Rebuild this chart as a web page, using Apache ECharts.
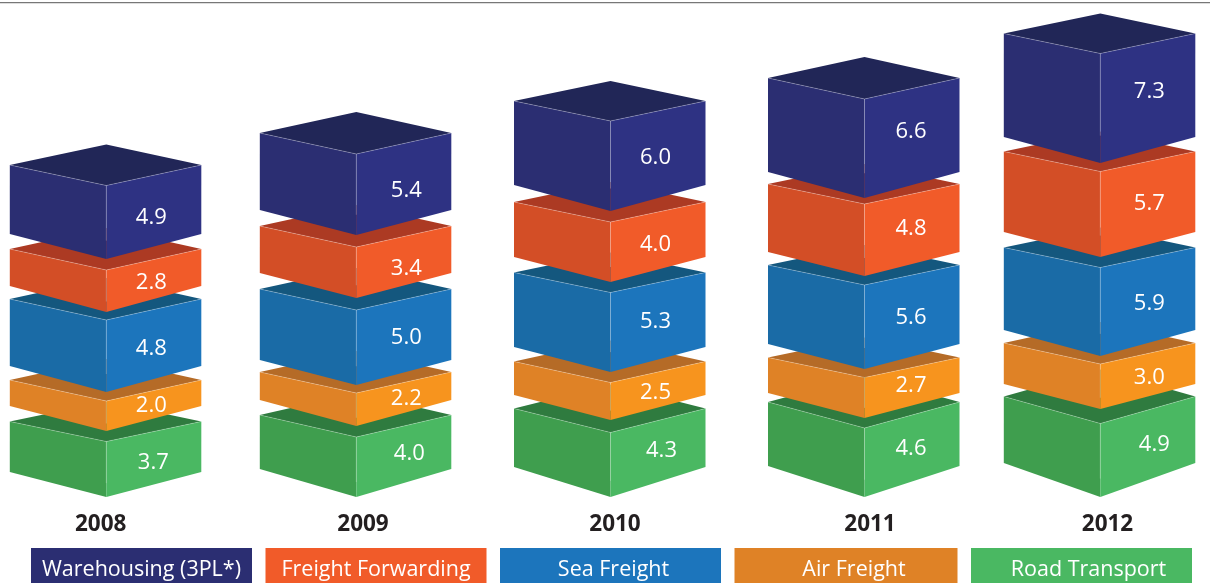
<!DOCTYPE html>
<html><head><meta charset="utf-8">
<style>html,body{margin:0;padding:0;background:#fff}#c{width:1210px;height:583px}</style>
<script src="https://cdn.jsdelivr.net/npm/echarts@6/dist/echarts.min.js"></script>
</head><body><div id="c"></div>
<script>
// ---- data ----
const years = ['2008','2009','2010','2011','2012'];
const roadTransport = [3.7,4.0,4.3,4.6,4.9];
const airFreight = [2.0,2.2,2.5,2.7,3.0];
const seaFreight = [4.8,5.0,5.3,5.6,5.9];
const freightForwarding = [2.8,3.4,4.0,4.8,5.7];
const warehousing = [4.9,5.4,6.0,6.6,7.3];
const seriesNames = ['Road Transport','Air Freight','Sea Freight','Freight Forwarding','Warehousing (3PL*)'];
const seriesValues = [roadTransport,airFreight,seaFreight,freightForwarding,warehousing];
const legendOrder = ['Warehousing (3PL*)','Freight Forwarding','Sea Freight','Air Freight','Road Transport'];

// ---- layout / style (pixels) ----
const colNudge = [0.3,1.8,7.5,13,0.3];
const halfL = 96.5, halfR = 95;
const gapsBelow = [[0,10.5,9,8,11],[0,11,8,12,12],[0,12.5,10.5,10.5,11],[0,10,8.5,9,6],[0,14.5,8,10.5,8.5]];
const topV = [[20,21,21,21,20.5],[22,21,21,21,21],[24,21,20,20,20],[26,20,20,20,21],[27,21,20,20,20]];
const botV = [[25,25,26,26,25],[28,26,25,25,25],[30,25,25,25,26],[31,25,25,24,26],[34,25,26,25,26]];
const labelDx = [[47,45,45,45,45],[53,50,50,50,50],[51,45,45,45,45],[46.5,46.5,46.5,46.5,46.5],[54,49,49,49,49]];
const labelDy = [[-8,-12,-9,-9.5,-6.5],[-14.5,-12,-11,-5,-5.5],[-15.5,-10.5,-12,-9,-9.5],[-15.5,-13.5,-11,-13,-18.5],[-17,-10.5,-9.5,-12.5,-18]];
const labelLift = 1.5;
const yearLabelDx = [-5.3,8.5,12,18.5,7.5];
const legendTextDx = [0,0,3,8,7];
const faceColors = [
  {top:'#2F7B3F',left:'#3F9E4E',right:'#4AB862',legend:'#4AB862'},
  {top:'#B56B27',left:'#DF8226',right:'#F7941E',legend:'#DF8226'},
  {top:'#14577E',left:'#1A6BA6',right:'#1C75BC',legend:'#1C75BC'},
  {top:'#AC3A23',left:'#D34E26',right:'#F15B29',legend:'#F15B29'},
  {top:'#212657',left:'#2B2E72',right:'#2E3283',legend:'#2B2E72'}
];
const edge = 'rgba(255,255,255,0.3)';
const FONT = '"Open Sans", "Noto Sans", sans-serif';

function stackBase(s,i){let b=0;for(let k=0;k<s;k++)b+=seriesValues[k][i];return b;}
function gapSum(s,i){let g=0;for(let k=0;k<=s;k++)g+=gapsBelow[i][k];return g;}

function makeRender(s){
  return function(params,api){
    const i=api.value(0), v=api.value(1);
    const base=stackBase(s,i);
    const g=gapSum(s,i);
    const p0=api.coord([i,base]), p1=api.coord([i,base+v]);
    const cx=p0[0]+colNudge[i];
    const fb=p0[1]-g, ft=p1[1]-g;
    const tv=topV[i][s], bv=botV[i][s];
    const xl=cx-halfL, xr=cx+halfR;
    const tl=ft-tv, bl=fb-bv, back=ft-2*tv;
    const c=faceColors[s];
    const poly=(pts,fill)=>({type:'polygon',shape:{points:pts},style:{fill:fill}});
    const line=(pts,w)=>({type:'polyline',shape:{points:pts},style:{stroke:edge,lineWidth:w,fill:null}});
    return {type:'group',children:[
      poly([[cx,back],[xr,tl],[cx,ft],[xl,tl]],c.top),
      poly([[xl,tl],[cx,ft],[cx,fb],[xl,bl]],c.left),
      poly([[cx,ft],[xr,tl],[xr,bl],[cx,fb]],c.right),
      line([[xl,tl],[cx,ft],[xr,tl]],0.8),
      line([[cx,ft],[cx,ft+(fb-ft)*0.75]],0.8),
      {type:'text',style:{text:api.value(1).toFixed(1),x:cx+labelDx[i][s],y:(ft+fb)/2+labelDy[i][s]+labelLift,
        fill:'#fff',font:'22px '+FONT,align:'center',verticalAlign:'middle'}}
    ]};
  };
}

const rich={};
legendOrder.forEach((n,k)=>{
  const c=faceColors[seriesNames.indexOf(n)].legend;
  const d=legendTextDx[k];
  rich['r'+k]={backgroundColor:c,color:'#fff',width:(k===3?223:221)-2*d,height:35,lineHeight:35,align:'center',
    padding:[4,0,0,2*d],fontFamily:FONT,fontSize:21.5};
});
const yearRich={};
yearLabelDx.forEach((d,k)=>{
  yearRich['y'+k]={fontFamily:FONT,fontWeight:'bold',fontSize:22.5,color:'#231F20',
    padding:d>=0?[0,0,0,2*d]:[0,-2*d,0,0]};
});

const chart=echarts.init(document.getElementById('c'),null,{renderer:'canvas'});
chart.setOption({
  animation:false,
  backgroundColor:'#fff',
  grid:{left:106,right:110,top:0,bottom:86},
  xAxis:{type:'category',data:years,boundaryGap:false,
    axisLine:{show:false},axisTick:{show:false},splitLine:{show:false},
    axisLabel:{show:true,interval:0,margin:16.5,showMinLabel:true,showMaxLabel:true,hideOverlap:false,
      formatter:(val,idx)=>`{y${idx}|${val}}`,rich:yearRich}},
  yAxis:{type:'value',show:false,min:0,max:497/15,splitLine:{show:false}},
  legend:{show:true,left:26,top:548,orient:'horizontal',itemGap:8.5,itemWidth:0,itemHeight:0,
    selectedMode:false,padding:0,data:legendOrder,
    formatter:n=>`{r${legendOrder.indexOf(n)}|${n}}`,
    textStyle:{rich:rich}},
  graphic:[{type:'rect',left:0,top:2,shape:{width:1210,height:1.3},style:{fill:'#777'},silent:true}],
  series:seriesNames.map((n,s)=>({
    name:n,type:'custom',clip:false,silent:true,z:2+s,
    coordinateSystem:'cartesian2d',
    itemStyle:{color:faceColors[s].legend},
    encode:{x:0,y:1},
    data:seriesValues[s].map((v,i)=>[i,v]),
    renderItem:makeRender(s)
  }))
});
</script></body></html>
